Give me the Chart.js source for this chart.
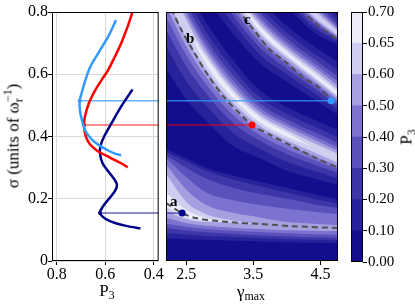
<!DOCTYPE html>
<html>
<head>
<meta charset="utf-8">
<script src="https://cdn.jsdelivr.net/npm/chart.js@4.4.1/dist/chart.umd.min.js"></script>
<style>
  body { margin: 0; background: #fff; }
  #wrap { position: relative; width: 415px; height: 305px; overflow: hidden;
          font-family: "Liberation Serif", "DejaVu Serif", serif; color: #000; }
  canvas { position: absolute; top: 0; }
  .lbl { position: absolute; font-size: 17px; white-space: nowrap; line-height: 1;
         transform: translate(-50%, -50%); }
  .rot { transform: translate(-50%, -50%) rotate(-90deg); }
  .lbl sub { font-size: 70%; line-height: 0; vertical-align: -0.3em; }
  .sb { font-size: 70%; line-height: 0; vertical-align: -0.35em; }
  .sp { font-size: 70%; line-height: 0; vertical-align: 0.55em; margin-left: -0.32em; }
  .tag { position: absolute; font-size: 15px; font-weight: bold; line-height: 1;
         transform: translate(-50%, -50%); }
</style>
</head>
<body>
<div id="wrap">
  <canvas id="left" width="164" height="305" style="left:0"></canvas>
  <canvas id="right" width="180" height="305" style="left:162px"></canvas>
  <canvas id="cbar" width="75" height="305" style="left:340px"></canvas>
  <div class="lbl rot" style="left:13px; top:136px">σ (units of ω<span class="sb">r</span><span class="sp">−1</span>)</div>
  <div class="lbl" style="left:107px; top:290px">P<sub>3</sub></div>
  <div class="lbl" style="left:251px; top:291px">γ<sub>max</sub></div>
  <div class="lbl rot" style="left:406px; top:137px">P<sub>3</sub></div>
</div>
<script>
// ---- left panel: P3 along the three ridges ----
const blueP = [0.556, 0.589, 0.629, 0.662, 0.682, 0.698, 0.706, 0.704, 0.694, 0.68, 0.655, 0.628, 0.588, 0.56, 0.535];
const blueS = [0.774, 0.72, 0.668, 0.624, 0.582, 0.539, 0.514, 0.48, 0.445, 0.415, 0.39, 0.373, 0.355, 0.345, 0.34];
const redP = [0.488, 0.508, 0.535, 0.561, 0.588, 0.615, 0.641, 0.668, 0.684, 0.688, 0.684, 0.672, 0.655, 0.628, 0.6, 0.575, 0.535, 0.508];
const redS = [0.80, 0.753, 0.699, 0.656, 0.614, 0.582, 0.55, 0.507, 0.464, 0.437, 0.41, 0.385, 0.368, 0.351, 0.34, 0.33, 0.314, 0.301];
const navyP = [0.488, 0.535, 0.575, 0.605, 0.62, 0.622, 0.612, 0.59, 0.565, 0.552, 0.56, 0.585, 0.61, 0.622, 0.6, 0.56, 0.51, 0.455];
const navyS = [0.551, 0.496, 0.442, 0.40, 0.37, 0.345, 0.315, 0.29, 0.265, 0.245, 0.225, 0.20, 0.175, 0.154, 0.136, 0.122, 0.112, 0.105];

// marked minima: blue, red, navy
const markS = [0.515, 0.437, 0.154];
const markP = [0.706, 0.688, 0.622];
const markG = [4.66, 3.48, 2.44];

// dashed ridge tracks (gamma, sigma)
const aG = [2.2, 2.44, 2.64, 3.13, 3.61, 4.08, 4.76];
const aS = [0.186, 0.154, 0.138, 0.125, 0.119, 0.112, 0.106];
const bG = [2.28, 2.43, 2.60, 2.82, 3.06, 3.32, 3.48, 3.75, 4.04, 4.40, 4.76];
const bS = [0.81, 0.742, 0.678, 0.598, 0.527, 0.469, 0.437, 0.405, 0.373, 0.334, 0.299];
const cG = [3.26, 3.51, 3.75, 4.0, 4.23, 4.47, 4.66];
const cS = [0.81, 0.742, 0.678, 0.636, 0.591, 0.559, 0.517];
const dG = [4.21, 4.45, 4.76];
const dS = [0.81, 0.76, 0.71];

// contour band edges, one row per level (0.1, 0.2, 0.3, 0.4, 0.5, 0.6, 0.65)
const gammaGrid = [2.2, 2.5, 2.8, 3.2, 3.6, 4.0, 4.4, 4.76];
const ridgeAHi = [
  [0.36, 0.33, 0.30, 0.275, 0.255, 0.235, 0.215, 0.198],
  [0.35, 0.32, 0.29, 0.262, 0.24, 0.22, 0.2, 0.185],
  [0.34, 0.30, 0.265, 0.235, 0.215, 0.2, 0.182, 0.17],
  [0.33, 0.27, 0.22, 0.195, 0.18, 0.168, 0.158, 0.15],
  [0.31, 0.23, 0.18, 0.155, 0.14, 0.125, 0.12, 0.115],
  [0.28, 0.19, 0.15, 0.13, 0.119, 0.113, 0.109, 0.106],
  [0.22, 0.165, 0.138, 0.124, 0.119, 0.113, 0.109, 0.106]
];
const ridgeALo = [
  [0.072, 0.07, 0.068, 0.065, 0.063, 0.06, 0.059, 0.058],
  [0.09, 0.085, 0.08, 0.077, 0.074, 0.07, 0.068, 0.066],
  [0.105, 0.098, 0.092, 0.087, 0.083, 0.079, 0.076, 0.074],
  [0.12, 0.11, 0.103, 0.097, 0.093, 0.089, 0.086, 0.084],
  [0.14, 0.122, 0.113, 0.107, 0.103, 0.099, 0.097, 0.096],
  [0.16, 0.135, 0.125, 0.124, 0.119, 0.113, 0.109, 0.106],
  [0.175, 0.14, 0.13, 0.124, 0.119, 0.113, 0.109, 0.106]
];
const ridgeBHi = [
  [1.0, 0.88, 0.765, 0.645, 0.548, 0.495, 0.455, 0.42],
  [0.974, 0.849, 0.735, 0.617, 0.525, 0.473, 0.433, 0.397],
  [0.953, 0.824, 0.711, 0.595, 0.506, 0.455, 0.415, 0.379],
  [0.937, 0.806, 0.693, 0.578, 0.492, 0.442, 0.401, 0.365],
  [0.924, 0.791, 0.679, 0.564, 0.480, 0.432, 0.390, 0.354],
  [0.912, 0.776, 0.664, 0.551, 0.469, 0.421, 0.379, 0.344],
  [0.895, 0.756, 0.653, 0.541, 0.461, 0.413, 0.365, 0.329]
];
const ridgeBLo = [
  [0.62, 0.52, 0.45, 0.37, 0.33, 0.29, 0.265, 0.245],
  [0.689, 0.579, 0.499, 0.411, 0.361, 0.319, 0.29, 0.266],
  [0.744, 0.626, 0.538, 0.443, 0.386, 0.343, 0.31, 0.283],
  [0.785, 0.662, 0.567, 0.468, 0.404, 0.360, 0.325, 0.295],
  [0.818, 0.690, 0.590, 0.487, 0.419, 0.374, 0.337, 0.305],
  [0.851, 0.718, 0.614, 0.507, 0.434, 0.388, 0.349, 0.316],
  [0.895, 0.756, 0.631, 0.522, 0.445, 0.399, 0.365, 0.329]
];
const ridgeCHi = [
  [1.35, 1.2, 1.08, 0.95, 0.84, 0.755, 0.69, 0.64],
  [1.331, 1.181, 1.06, 0.928, 0.817, 0.733, 0.667, 0.614],
  [1.316, 1.166, 1.043, 0.91, 0.798, 0.715, 0.649, 0.593],
  [1.305, 1.155, 1.031, 0.896, 0.784, 0.702, 0.635, 0.577],
  [1.296, 1.146, 1.021, 0.885, 0.772, 0.691, 0.624, 0.564],
  [1.287, 1.137, 1.011, 0.874, 0.761, 0.680, 0.614, 0.552],
  [1.275, 1.125, 0.998, 0.86, 0.753, 0.672, 0.605, 0.543]
];
const ridgeCLo = [
  [1.13, 0.99, 0.85, 0.73, 0.635, 0.576, 0.52, 0.47],
  [1.166, 1.024, 0.887, 0.763, 0.663, 0.599, 0.540, 0.486],
  [1.195, 1.051, 0.917, 0.789, 0.685, 0.617, 0.556, 0.499],
  [1.217, 1.071, 0.939, 0.808, 0.702, 0.630, 0.567, 0.509],
  [1.234, 1.087, 0.957, 0.824, 0.715, 0.641, 0.577, 0.517],
  [1.252, 1.103, 0.974, 0.839, 0.728, 0.652, 0.586, 0.525],
  [1.275, 1.125, 0.998, 0.86, 0.738, 0.660, 0.593, 0.530]
];
const ridgeDHi = [
  [1.7, 1.55, 1.4, 1.22, 1.07, 0.95, 0.87, 0.785],
  [1.681, 1.531, 1.381, 1.201, 1.053, 0.933, 0.851, 0.771],
  [1.666, 1.516, 1.366, 1.186, 1.039, 0.92, 0.836, 0.76],
  [1.655, 1.505, 1.355, 1.175, 1.028, 0.91, 0.825, 0.751],
  [1.646, 1.496, 1.346, 1.166, 1.02, 0.902, 0.816, 0.745],
  [1.637, 1.487, 1.337, 1.157, 1.011, 0.894, 0.807, 0.738]
];
const ridgeDLo = [
  [1.55, 1.4, 1.25, 1.07, 0.93, 0.82, 0.735, 0.695],
  [1.569, 1.419, 1.269, 1.089, 0.948, 0.836, 0.75, 0.704],
  [1.584, 1.434, 1.284, 1.104, 0.962, 0.848, 0.762, 0.710],
  [1.595, 1.445, 1.295, 1.115, 0.972, 0.858, 0.771, 0.715],
  [1.604, 1.454, 1.304, 1.124, 0.98, 0.865, 0.778, 0.719],
  [1.613, 1.463, 1.313, 1.133, 0.989, 0.873, 0.785, 0.724]
];

// ticks
const p3Ticks = [0.8, 0.6, 0.4];
const sigmaTicks = [0, 0.2, 0.4, 0.6, 0.8];
const gammaTicks = [2.5, 3.5, 4.5];
const levelLabels = ['0.00', '0.10', '0.20', '0.30', '0.40', '0.50', '0.60', '0.65', '0.70'];
const bandHeights = [1, 1, 1, 1, 1, 1, 1, 1];

// colours
const bandColors = ['#120e8c', '#26229a', '#3c36a8', '#5a51bc', '#7c72cf', '#a6a0e0', '#cfcdf0', '#ecebf8'];
const blueCol = '#3399ff', redCol = '#ff0000', navyCol = '#00008b';
const curveCols = [blueCol, redCol, navyCol];
const linkCols = ['rgba(51,153,255,0.75)', 'rgba(255,0,0,0.6)', 'rgba(0,0,139,0.6)'];

Chart.defaults.font.family = '"Liberation Serif", "DejaVu Serif", serif';
Chart.defaults.font.size = 16;
Chart.defaults.color = '#000';
Chart.defaults.animation = false;
Chart.defaults.responsive = false;
Chart.defaults.plugins.legend.display = false;
Chart.defaults.plugins.tooltip.enabled = false;

function pts(xs, ys) {
    return xs.map((x, i) => ({ x: x, y: ys[i] }));
}

// 축 프레임
const framePlugin = {
    id: 'frame',
    afterDraw(chart) {
        const { ctx, chartArea: a } = chart;
        ctx.save();
        ctx.strokeStyle = '#000';
        ctx.lineWidth = 1;
        ctx.strokeRect(a.left + 0.5, a.top + 0.5, a.right - a.left - 1, a.bottom - a.top - 1);
        ctx.restore();
    }
};

// 등고선 바탕 (가장 낮은 구간)
const basePlugin = {
    id: 'base',
    beforeDatasetsDraw(chart) {
        const { ctx, chartArea: a } = chart;
        ctx.save();
        ctx.fillStyle = bandColors[0];
        ctx.fillRect(a.left, a.top, a.right - a.left, a.bottom - a.top);
        ctx.restore();
    }
};

const tickGrid = { tickLength: 4, tickColor: '#000' };

// ---- left chart ----
const leftSets = [
    [blueP, blueS], [redP, redS], [navyP, navyS]
].map(([p, s], i) => ({
    data: pts(p, s), showLine: true, borderColor: curveCols[i], borderWidth: 2.5,
    pointRadius: 0, tension: 0.3, order: 1
}));
markP.forEach((p, i) => {
    leftSets.push({
        data: [{ x: p, y: markS[i] }, { x: 0.38, y: markS[i] }], showLine: true,
        borderColor: linkCols[i], borderWidth: 1.5, pointRadius: [2, 0],
        pointBackgroundColor: curveCols[i], pointBorderWidth: 0, order: 2
    });
});

new Chart(document.getElementById('left'), {
    type: 'scatter',
    data: { datasets: leftSets },
    options: {
        devicePixelRatio: 1,
        layout: { padding: { top: 12, right: 2, left: 0, bottom: 0 } },
        scales: {
            x: {
                type: 'linear', reverse: true, min: 0.38, max: 0.82,
                afterBuildTicks: s => { s.ticks = p3Ticks.map(v => ({ value: v })); },
                afterFit: s => { s.height = 44; },
                ticks: { padding: 0, callback: v => String(v) },
                grid: Object.assign({ color: '#d9d9d9' }, tickGrid),
                border: { display: false }
            },
            y: {
                min: 0, max: 0.8,
                afterBuildTicks: s => { s.ticks = sigmaTicks.map(v => ({ value: v })); },
                afterFit: s => { s.width = 52; },
                ticks: { padding: 0, callback: v => String(v) },
                grid: Object.assign({ color: '#d9d9d9' }, tickGrid),
                border: { display: false }
            }
        }
    },
    plugins: [framePlugin]
});

// ---- right chart (filled contours) ----
const rightSets = [];
[[ridgeAHi, ridgeALo], [ridgeBHi, ridgeBLo], [ridgeCHi, ridgeCLo], [ridgeDHi, ridgeDLo]].forEach(([hi, lo]) => {
    hi.forEach((row, k) => {
        const level = k + 1;
        const loIndex = rightSets.length + 1;
        const common = {
            showLine: true, borderWidth: 0, borderColor: 'rgba(0,0,0,0)', pointRadius: 0,
            cubicInterpolationMode: 'monotone', order: 100 - level
        };
        rightSets.push(Object.assign({ data: pts(gammaGrid, row), fill: loIndex, backgroundColor: bandColors[level] }, common));
        rightSets.push(Object.assign({ data: pts(gammaGrid, lo[k]), fill: false }, common));
    });
});
[[aG, aS], [bG, bS], [cG, cS], [dG, dS]].forEach(([g, s]) => {
    rightSets.push({
        data: pts(g, s), showLine: true, borderColor: '#505050', borderWidth: 2,
        borderDash: [6, 4], pointRadius: 0, tension: 0.3, order: 3
    });
});
markG.forEach((g, i) => {
    rightSets.push({
        data: [{ x: 2.2, y: markS[i] }, { x: g, y: markS[i] }], showLine: true,
        borderColor: linkCols[i], borderWidth: 1.5, pointRadius: [0, 3.5],
        pointBackgroundColor: curveCols[i], pointBorderWidth: 0, order: 2
    });
});

const rc = new Chart(document.getElementById('right'), {
    type: 'scatter',
    data: { datasets: rightSets },
    options: {
        devicePixelRatio: 1,
        layout: { padding: { top: 12, right: 2, left: 0, bottom: 0 } },
        scales: {
            x: {
                type: 'linear', min: 2.2, max: 4.76,
                afterBuildTicks: s => { s.ticks = gammaTicks.map(v => ({ value: v })); },
                afterFit: s => { s.height = 44; },
                ticks: { padding: 0, callback: v => String(v) },
                grid: Object.assign({ drawOnChartArea: false }, tickGrid),
                border: { display: false }
            },
            y: { min: 0, max: 0.8, display: false }
        }
    },
    plugins: [basePlugin, framePlugin]
});

// ridge names
const tags = [{ t: 'a', g: 2.315, s: 0.193 }, { t: 'b', g: 2.56, s: 0.716 }, { t: 'c', g: 3.41, s: 0.777 }];
const wrap = document.getElementById('wrap');
tags.forEach(tg => {
    const el = document.createElement('div');
    el.className = 'tag';
    el.textContent = tg.t;
    el.style.left = (162 + rc.scales.x.getPixelForValue(tg.g)) + 'px';
    el.style.top = rc.scales.y.getPixelForValue(tg.s) + 'px';
    wrap.appendChild(el);
});

// ---- colour bar ----
new Chart(document.getElementById('cbar'), {
    type: 'bar',
    data: {
        labels: ['P3'],
        datasets: bandHeights.map((h, i) => ({
            data: [h], backgroundColor: bandColors[i], borderWidth: 0,
            barPercentage: 1, categoryPercentage: 1, stack: 'cb'
        }))
    },
    options: {
        devicePixelRatio: 1,
        layout: { padding: { top: 12, right: 0, left: 11, bottom: 43 } },
        scales: {
            x: { display: false, stacked: true },
            y: {
                stacked: true, min: 0, max: 8, position: 'right',
                afterBuildTicks: s => { s.ticks = levelLabels.map((l, i) => ({ value: i })); },
                afterFit: s => { s.width = 52; },
                ticks: { padding: 1, font: { size: 15 }, callback: v => levelLabels[v] },
                grid: Object.assign({ drawOnChartArea: false }, tickGrid),
                border: { display: false }
            }
        }
    },
    plugins: [framePlugin]
});
</script>
</body>
</html>
